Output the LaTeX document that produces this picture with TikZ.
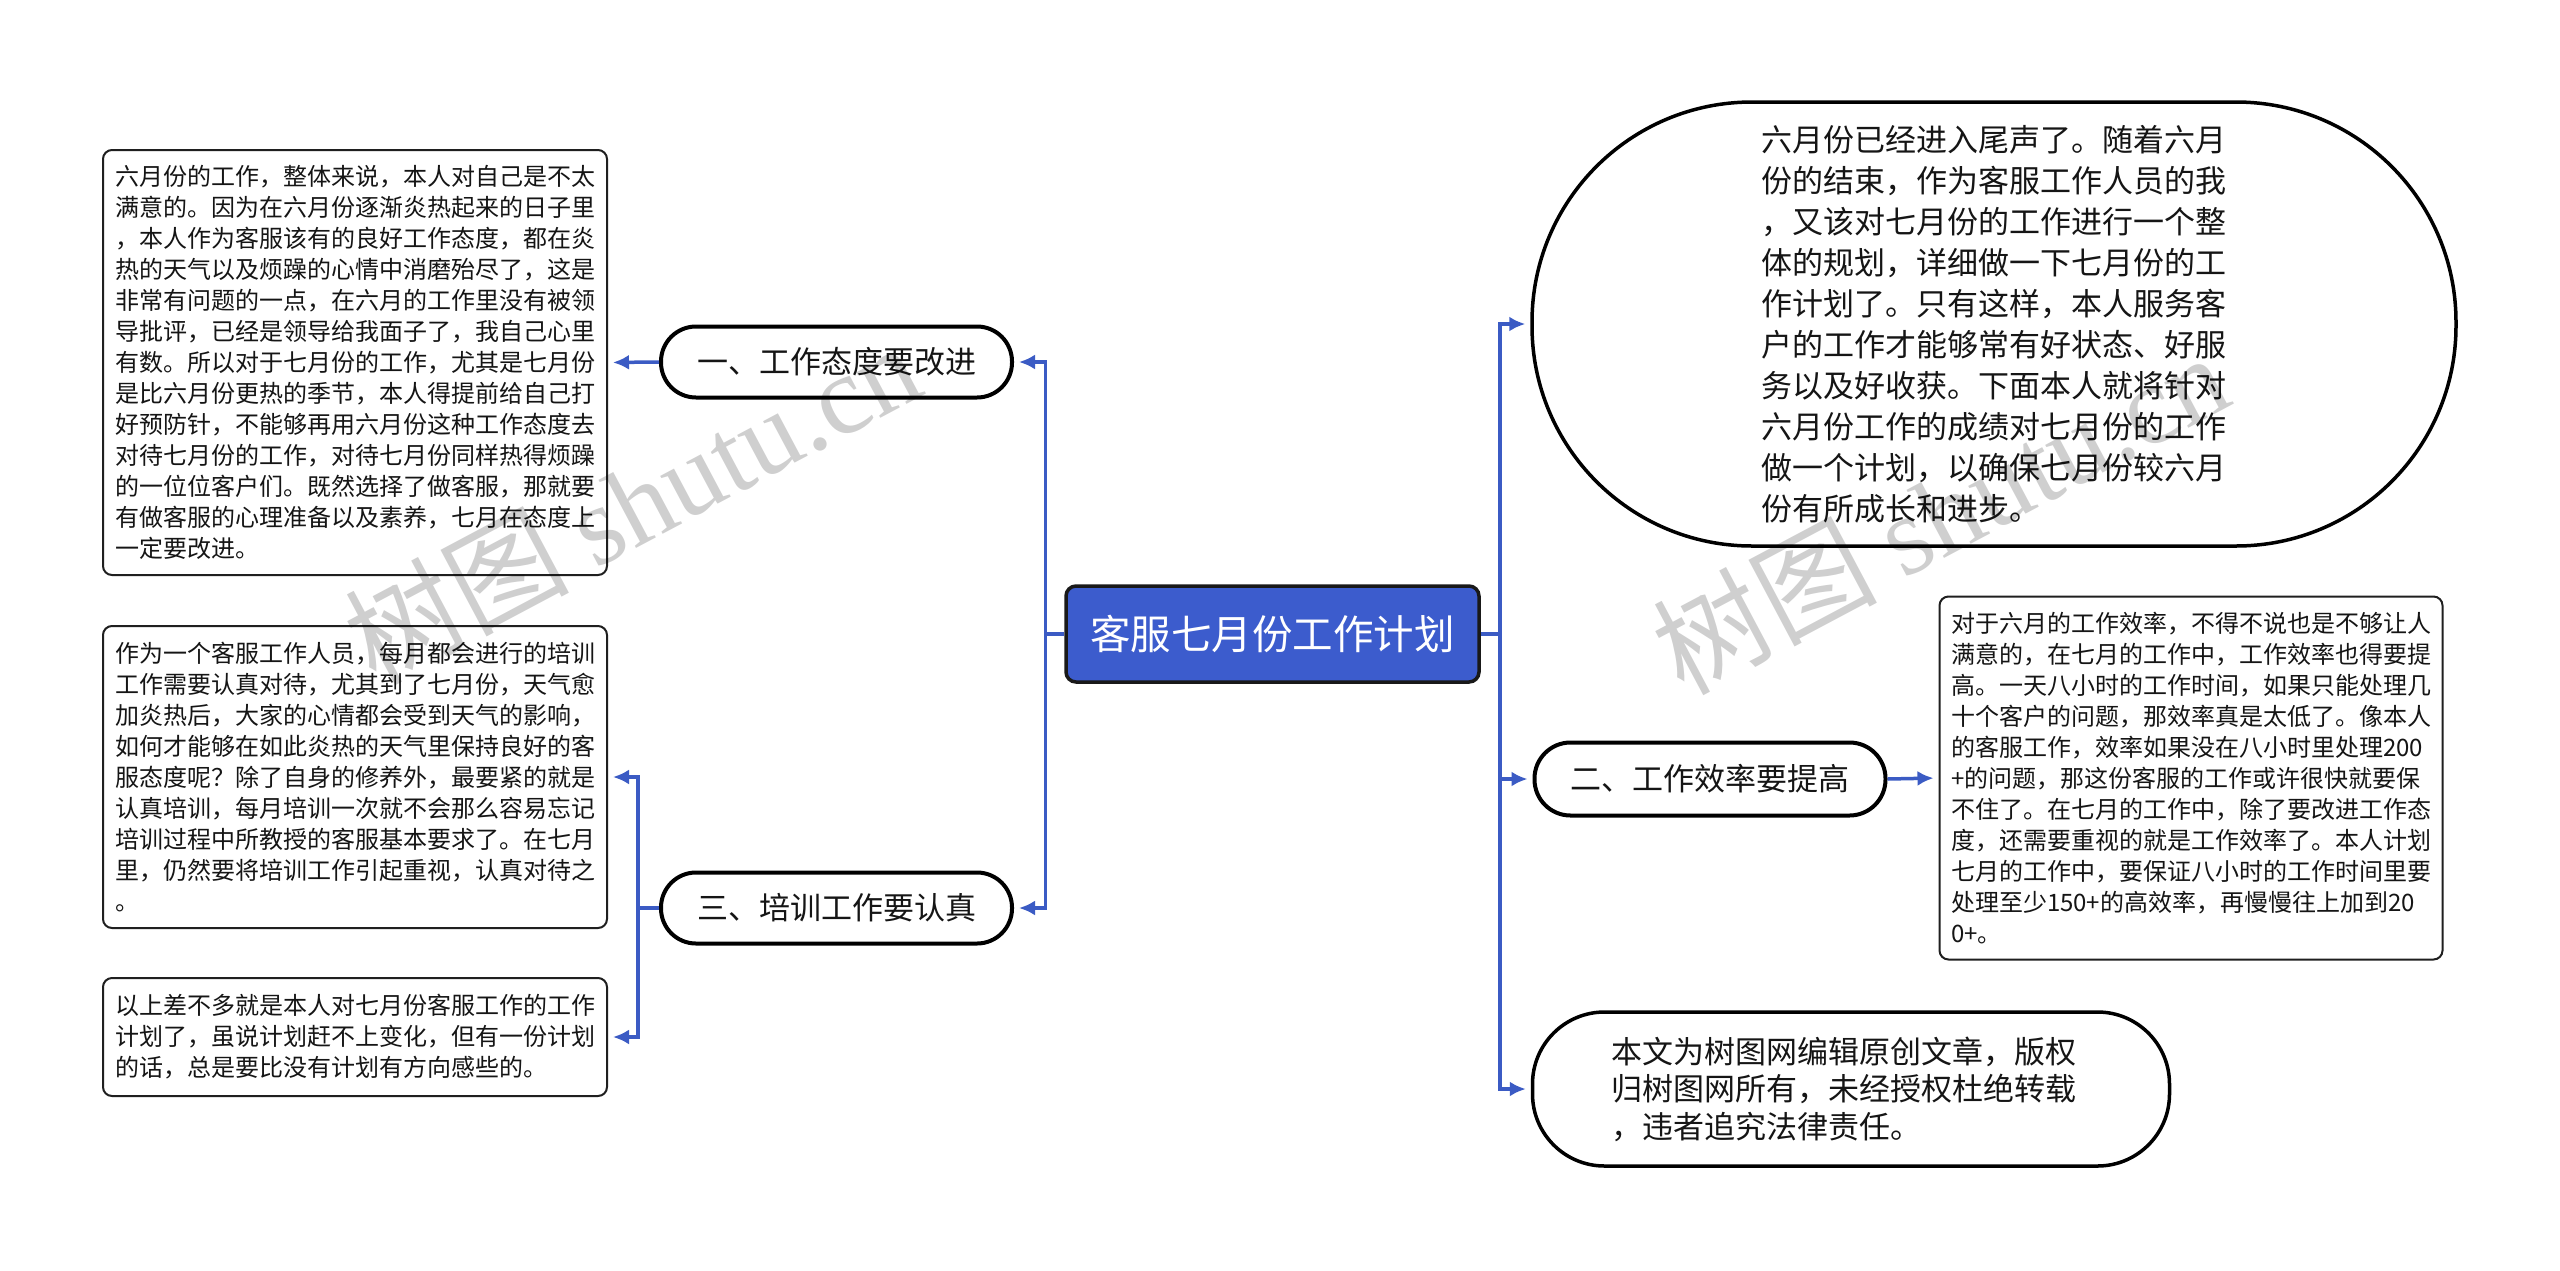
\documentclass[tikz,border=0pt]{standalone}
\usepackage{fontspec}
\setmainfont{Noto Sans CJK SC}
\newfontfamily\wmlatin{Liberation Serif}
\usetikzlibrary{arrows.meta}
\definecolor{cline}{HTML}{3B5BC4}
\definecolor{cfill}{HTML}{3C5CCD}
\definecolor{ctext}{HTML}{151515}
\begin{document}
\begin{tikzpicture}[x=1pt,y=-1pt,
  conn/.style={draw=cline,line width=3.5pt,shorten >=5pt,-{Latex[length=16pt,width=15pt]}},
  tbox/.style={draw=black!88,line width=2pt,rounded corners=9pt,fill=white,inner sep=0pt,align=left,text=ctext,font=\fontsize{24pt}{31pt}\selectfont},
  pill/.style={draw=black,line width=4pt,fill=white,inner sep=0pt,align=center,text=ctext,font=\fontsize{31pt}{38pt}\selectfont},
  rootbox/.style={draw=black!90,line width=3.5pt,fill=cfill,rounded corners=10pt,inner sep=0pt,text=white,font=\fontsize{40.5pt}{48pt}\selectfont},
  wmark/.style={rotate=28,text=black,opacity=0.19,font=\fontsize{112pt}{120pt}\selectfont}
]
\useasboundingbox (0,0) rectangle (2560,1270);
\fill[white] (0,0) rectangle (2560,1270);

% root
\node[rootbox,minimum width=413pt,minimum height=96pt] (root) at (1272.5,634) {客服七月份工作计划};

% left branch
\node[pill,rounded corners=35pt,minimum width=351pt,minimum height=71pt] (n1) at (836.5,362) {一、工作态度要改进};
\node[pill,rounded corners=35pt,minimum width=351pt,minimum height=71pt] (n3) at (836.5,908) {三、培训工作要认真};

\node[tbox,minimum width=504pt,minimum height=425pt] (b1) at (355,362.5) {六月份的工作，整体来说，本人对自己是不太\\满意的。因为在六月份逐渐炎热起来的日子里\\，本人作为客服该有的良好工作态度，都在炎\\热的天气以及烦躁的心情中消磨殆尽了，这是\\非常有问题的一点，在六月的工作里没有被领\\导批评，已经是领导给我面子了，我自己心里\\有数。所以对于七月份的工作，尤其是七月份\\是比六月份更热的季节，本人得提前给自己打\\好预防针，不能够再用六月份这种工作态度去\\对待七月份的工作，对待七月份同样热得烦躁\\的一位位客户们。既然选择了做客服，那就要\\有做客服的心理准备以及素养，七月在态度上\\一定要改进。};

\node[tbox,minimum width=504pt,minimum height=302pt] (b2) at (355,777) {作为一个客服工作人员，每月都会进行的培训\\工作需要认真对待，尤其到了七月份，天气愈\\加炎热后，大家的心情都会受到天气的影响，\\如何才能够在如此炎热的天气里保持良好的客\\服态度呢？除了自身的修养外，最要紧的就是\\认真培训，每月培训一次就不会那么容易忘记\\培训过程中所教授的客服基本要求了。在七月\\里，仍然要将培训工作引起重视，认真对待之\\。};

\node[tbox,minimum width=504pt,minimum height=118pt] (b3) at (355,1037) {以上差不多就是本人对七月份客服工作的工作\\计划了，虽说计划赶不上变化，但有一份计划\\的话，总是要比没有计划有方向感些的。};

% right branch
\node[pill,rounded corners=220pt,line width=3.5pt,minimum width=924pt,minimum height=444pt,align=left,font=\fontsize{31pt}{41pt}\selectfont] (bub) at (1994,324) {六月份已经进入尾声了。随着六月\\份的结束，作为客服工作人员的我\\，又该对七月份的工作进行一个整\\体的规划，详细做一下七月份的工\\作计划了。只有这样，本人服务客\\户的工作才能够常有好状态、好服\\务以及好收获。下面本人就将针对\\六月份工作的成绩对七月份的工作\\做一个计划，以确保七月份较六月\\份有所成长和进步。};

\node[pill,rounded corners=36pt,minimum width=351pt,minimum height=73pt] (n2) at (1710,779) {二、工作效率要提高};

\node[tbox,minimum width=503pt,minimum height=363pt] (b4) at (2191,778) {对于六月的工作效率，不得不说也是不够让人\\满意的，在七月的工作中，工作效率也得要提\\高。一天八小时的工作时间，如果只能处理几\\十个客户的问题，那效率真是太低了。像本人\\的客服工作，效率如果没在八小时里处理200\\+的问题，那这份客服的工作或许很快就要保\\不住了。在七月的工作中，除了要改进工作态\\度，还需要重视的就是工作效率了。本人计划\\七月的工作中，要保证八小时的工作时间里要\\处理至少150+的高效率，再慢慢往上加到20\\0+。};

\node[pill,rounded corners=72pt,line width=3.5pt,minimum width=637pt,minimum height=154pt,align=left,font=\fontsize{31pt}{37.5pt}\selectfont] (cp) at (1851,1089) {本文为树图网编辑原创文章，版权\hspace*{14pt}\\归树图网所有，未经授权杜绝转载\\，违者追究法律责任。};

% connectors
\draw[conn] (root.west) -- ++(-19,0) |- (n1.east);
\draw[conn] (root.west) -- ++(-19,0) |- (n3.east);
\draw[conn] (root.east) -- ++(19,0) |- (bub.west);
\draw[conn] (root.east) -- ++(19,0) |- (n2.west);
\draw[conn] (root.east) -- ++(19,0) |- (cp.west);
\draw[conn] (n1.west) -- (b1.east);
\draw[conn] (n3.west) -- ++(-21,0) |- (b2.east);
\draw[conn] (n3.west) -- ++(-21,0) |- (b3.east);
\draw[conn] (n2.east) -- (b4.west);

% watermarks
\node[wmark] (wm1) at (632,502) {树图 {\wmlatin shutu.cn}};
\node[wmark] (wm2) at (1940,512) {树图 {\wmlatin shutu.cn}};
\end{tikzpicture}
\end{document}
